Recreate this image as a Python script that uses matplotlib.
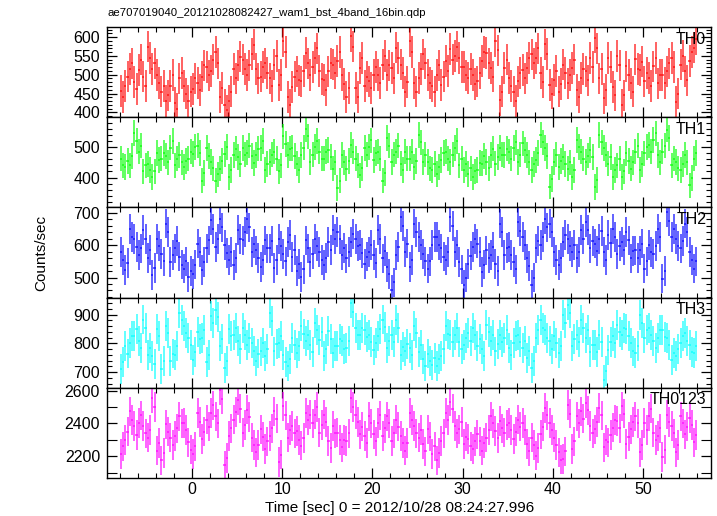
import numpy as np
import matplotlib
matplotlib.use("Agg")
import matplotlib.pyplot as plt
from matplotlib.ticker import MultipleLocator

plt.rcParams['font.family'] = ['Liberation Sans', 'DejaVu Sans']

# 0.25 s bins starting at t = -8 s
t_start = -8.0
bin_size = 0.25

th0 = [457, 440, 470, 495, 515, 530, 480, 462, 512, 540, 495, 470, 575, 545, 515, 530,
       500, 478, 455, 470, 430, 445, 470, 500, 425, 410, 490, 505, 470, 450, 430, 455,
       462, 490, 478, 460, 495, 525, 520, 498, 510, 540, 560, 530, 440, 465, 420, 405,
       430, 455, 515, 490, 525, 548, 540, 515, 500, 525, 555, 580, 515, 490, 495, 520,
       530, 505, 490, 470, 527, 550, 473, 500, 590, 560, 441, 420, 468, 495, 509, 485,
       482, 510, 558, 530, 500, 520, 545, 570, 510, 488, 486, 460, 509, 530, 527, 505,
       536, 560, 500, 475, 441, 465, 603, 575, 464, 440, 518, 545, 470, 495, 482, 465,
       500, 520, 500, 478, 527, 550, 500, 525, 518, 490, 572, 545, 527, 505, 455, 480,
       590, 560, 477, 455, 491, 515, 554, 530, 500, 478, 470, 455, 500, 525, 473, 495,
       536, 510, 568, 540, 550, 575, 545, 520, 520, 498, 491, 515, 500, 475, 482, 505,
       536, 560, 558, 530, 518, 495, 590, 565, 432, 455, 518, 540, 491, 470, 455, 430,
       482, 505, 513, 490, 518, 545, 554, 530, 545, 570, 504, 480, 581, 555, 473, 450,
       486, 510, 455, 475, 527, 505, 477, 500, 518, 540, 460, 440, 491, 515, 509, 485,
       545, 520, 599, 570, 490, 515, 437, 460, 545, 520, 468, 445, 550, 525, 419, 445,
       522, 500, 477, 455, 541, 515, 513, 535, 482, 505, 491, 470, 522, 545, 477, 500,
       500, 478, 509, 530, 545, 520, 428, 450, 527, 550, 509, 485, 536, 560, 572, 595]

th1 = [462, 440, 435, 455, 440, 470, 546, 520, 485, 505, 420, 440, 445, 425, 401, 420,
       480, 458, 462, 480, 470, 450, 498, 520, 440, 462, 474, 450, 435, 455, 462, 485,
       478, 500, 505, 480, 390, 415, 496, 470, 451, 430, 390, 410, 429, 455, 478, 500,
       401, 425, 474, 495, 468, 445, 496, 475, 482, 505, 470, 448, 474, 495, 496, 520,
       424, 445, 451, 475, 485, 462, 420, 440, 535, 510, 474, 495, 496, 470, 446, 425,
       474, 498, 560, 535, 451, 475, 500, 520, 485, 462, 462, 485, 490, 468, 429, 450,
       365, 390, 474, 450, 429, 455, 507, 485, 462, 440, 407, 430, 496, 475, 501, 522,
       457, 480, 485, 462, 390, 415, 529, 505, 451, 475, 485, 505, 446, 425, 485, 462,
       462, 485, 435, 455, 540, 515, 451, 475, 451, 430, 424, 445, 412, 435, 457, 480,
       485, 462, 451, 475, 496, 520, 440, 462, 424, 445, 412, 430, 401, 420, 424, 448,
       446, 470, 451, 430, 474, 495, 446, 468, 496, 475, 474, 495, 485, 462, 496, 515,
       451, 475, 512, 490, 474, 450, 424, 445, 457, 480, 540, 515, 496, 470, 370, 395,
       451, 475, 435, 455, 468, 445, 429, 450, 401, 425, 523, 500, 485, 462, 451, 472,
       490, 468, 368, 392, 540, 515, 496, 475, 446, 468, 401, 425, 440, 462, 401, 420,
       479, 455, 429, 450, 485, 505, 424, 445, 479, 500, 507, 485, 523, 545, 474, 450,
       485, 505, 557, 530, 440, 462, 451, 430, 424, 445, 474, 450, 374, 398, 462, 480]

th2 = [579, 555, 523, 545, 651, 625, 620, 595, 569, 590, 646, 620, 560, 585, 507, 530,
       620, 598, 574, 550, 667, 640, 548, 570, 590, 612, 565, 540, 528, 550, 502, 520,
       512, 540, 605, 580, 523, 548, 590, 615, 677, 650, 595, 620, 682, 655, 600, 575,
       554, 580, 538, 560, 646, 620, 615, 640, 682, 655, 580, 605, 584, 560, 533, 555,
       615, 590, 590, 612, 530, 555, 620, 598, 574, 550, 610, 632, 564, 585, 520, 542,
       502, 525, 615, 590, 548, 572, 620, 598, 580, 555, 538, 560, 610, 585, 646, 620,
       641, 618, 569, 592, 559, 580, 610, 635, 620, 598, 600, 575, 543, 565, 579, 600,
       569, 545, 646, 620, 559, 582, 533, 510, 461, 485, 569, 595, 687, 660, 580, 605,
       533, 555, 667, 640, 625, 600, 574, 550, 528, 550, 600, 625, 625, 600, 590, 565,
       554, 578, 687, 660, 579, 600, 548, 525, 477, 500, 543, 568, 595, 620, 605, 580,
       518, 540, 584, 560, 570, 595, 543, 520, 667, 640, 569, 592, 595, 570, 548, 525,
       672, 645, 625, 600, 559, 535, 477, 500, 590, 612, 600, 625, 682, 655, 667, 640,
       579, 555, 538, 560, 610, 632, 620, 598, 579, 600, 559, 580, 646, 620, 672, 648,
       590, 612, 605, 582, 620, 645, 579, 555, 631, 608, 651, 625, 574, 598, 610, 585,
       641, 615, 559, 582, 584, 560, 584, 605, 528, 550, 600, 578, 574, 598, 651, 625,
       497, 520, 702, 675, 625, 650, 620, 598, 590, 612, 667, 640, 579, 555, 528, 550]

th3 = [710, 735, 790, 765, 800, 825, 825, 850, 810, 785, 883, 855, 760, 785, 755, 730,
       850, 825, 710, 740, 860, 835, 740, 765, 761, 790, 906, 880, 860, 835, 819, 795,
       743, 770, 840, 815, 819, 845, 735, 760, 895, 870, 917, 890, 790, 815, 714, 740,
       850, 825, 830, 855, 807, 780, 854, 828, 796, 820, 800, 775, 740, 765, 772, 800,
       755, 780, 905, 878, 772, 798, 801, 825, 761, 735, 720, 745, 820, 795, 767, 790,
       859, 832, 807, 830, 796, 770, 870, 845, 813, 838, 755, 780, 842, 815, 767, 792,
       790, 815, 807, 780, 784, 810, 941, 910, 854, 828, 830, 855, 848, 822, 830, 805,
       778, 800, 825, 850, 883, 858, 784, 810, 830, 805, 880, 855, 761, 788, 772, 798,
       784, 760, 862, 835, 770, 795, 745, 720, 765, 740, 726, 750, 720, 745, 755, 780,
       859, 832, 830, 805, 830, 855, 805, 780, 796, 820, 836, 810, 854, 828, 790, 815,
       780, 755, 865, 838, 807, 830, 772, 798, 830, 805, 820, 845, 784, 760, 800, 825,
       830, 805, 784, 810, 750, 775, 715, 740, 820, 845, 880, 855, 845, 820, 807, 782,
       825, 800, 767, 792, 900, 872, 935, 905, 790, 815, 830, 805, 880, 855, 819, 845,
       770, 795, 796, 770, 830, 805, 674, 705, 778, 805, 825, 800, 865, 840, 830, 855,
       850, 825, 801, 775, 767, 790, 900, 872, 819, 845, 854, 828, 810, 785, 819, 845,
       848, 822, 819, 795, 743, 768, 755, 780, 800, 825, 836, 810, 796, 770, 767, 790]

th0123 = [2214, 2260, 2300, 2350, 2474, 2420, 2384, 2330, 2404, 2450, 2384, 2340, 2314, 2360, 2554, 2500,
          2234, 2280, 2174, 2220, 2394, 2350, 2314, 2270, 2324, 2370, 2444, 2400, 2404, 2360, 2284, 2240,
          2214, 2260, 2464, 2410, 2304, 2350, 2424, 2380, 2464, 2510, 2444, 2400, 2604, 2550, 2144, 2190,
          2324, 2370, 2424, 2470, 2544, 2490, 2344, 2390, 2484, 2440, 2314, 2270, 2224, 2270, 2364, 2320,
          2244, 2290, 2324, 2370, 2474, 2430, 2164, 2210, 2504, 2450, 2314, 2360, 2384, 2340, 2354, 2300,
          2264, 2310, 2464, 2420, 2454, 2400, 2454, 2500, 2344, 2390, 2454, 2410, 2294, 2250, 2384, 2340,
          2344, 2300, 2254, 2300, 2294, 2340, 2554, 2500, 2454, 2410, 2334, 2380, 2324, 2280, 2444, 2400,
          2334, 2290, 2404, 2450, 2324, 2370, 2444, 2400, 2294, 2340, 2424, 2380, 2324, 2280, 2234, 2280,
          2464, 2420, 2384, 2340, 2314, 2360, 2274, 2230, 2364, 2320, 2214, 2260, 2174, 2220, 2294, 2340,
          2464, 2420, 2534, 2490, 2384, 2340, 2364, 2410, 2274, 2320, 2304, 2260, 2244, 2290, 2334, 2290,
          2234, 2280, 2314, 2360, 2444, 2400, 2354, 2310, 2414, 2370, 2344, 2390, 2404, 2360, 2304, 2350,
          2424, 2380, 2404, 2360, 2274, 2230, 2314, 2270, 2204, 2250, 2334, 2380, 2494, 2450, 2404, 2360,
          2314, 2270, 2224, 2180, 2184, 2230, 2514, 2460, 2244, 2290, 2444, 2400, 2474, 2430, 2524, 2480,
          2384, 2340, 2364, 2410, 2494, 2450, 2254, 2300, 2284, 2330, 2374, 2420, 2414, 2370, 2504, 2460,
          2274, 2320, 2364, 2410, 2444, 2400, 2224, 2270, 2404, 2360, 2444, 2490, 2344, 2300, 2324, 2370,
          2194, 2240, 2454, 2410, 2384, 2340, 2224, 2270, 2444, 2400, 2334, 2380, 2434, 2390, 2284, 2330]

series = [th0, th1, th2, th3, th0123]
labels = ["TH0", "TH1", "TH2", "TH3", "TH0123"]
errors = [42, 42, 46, 52, 90]
colors = ["#ff0000", "#00ff00", "#0000ff", "#00ffff", "#ff00ff"]
ylims = [(387, 627), (302, 598), (438, 717), (646, 959), (2067, 2618)]
major_steps = [50, 100, 100, 100, 200]
minor_steps = [10, 20, 20, 20, 100]

W, H = 717, 516
fig, axes = plt.subplots(5, 1, sharex=True, figsize=(W / 100, H / 100), dpi=100)
fig.subplots_adjust(left=107 / W, right=711 / W, top=1 - 27 / H, bottom=1 - 478 / H, hspace=0)

for i, ax in enumerate(axes):
    y = np.array(series[i])
    t = t_start + bin_size * (np.arange(len(y)) + 0.5)
    ax.errorbar(t, y, xerr=bin_size / 2, yerr=errors[i], fmt='none',
                ecolor=colors[i], elinewidth=1.2, alpha=0.72)
    ax.set_ylim(*ylims[i])
    ax.set_xlim(-9.4, 57.5)
    ax.yaxis.set_major_locator(MultipleLocator(major_steps[i]))
    ax.yaxis.set_minor_locator(MultipleLocator(minor_steps[i]))
    ax.xaxis.set_major_locator(MultipleLocator(10))
    ax.xaxis.set_minor_locator(MultipleLocator(2))
    ax.tick_params(which='both', direction='in', top=True, right=True, labelsize=11.5, pad=5)
    ax.tick_params(which='major', length=7, width=0.9)
    ax.tick_params(which='minor', length=3.5, width=0.8)
    if i == 4:
        ax.tick_params(which='minor', axis='y', length=7)
    for s in ax.spines.values():
        s.set_linewidth(1.0)
    ax.text(0.992, 1 - 12 / 90, labels[i], transform=ax.transAxes,
            ha='right', va='center', fontsize=11.5)

axes[-1].tick_params(axis='x', pad=3)

fig.text(108 / W, 1 - 13 / H, "ae707019040_20121028082427_wam1_bst_4band_16bin.qdp",
         ha='left', va='center', fontsize=8.2)
fig.text(400 / W, 1 - 508 / H, "Time [sec] 0 = 2012/10/28 08:24:27.996",
         ha='center', va='center', fontsize=11)
fig.text(41 / W, 1 - 253 / H, "Counts/sec", rotation=90,
         ha='center', va='center', fontsize=11)

fig.savefig("out.png", dpi=100)
